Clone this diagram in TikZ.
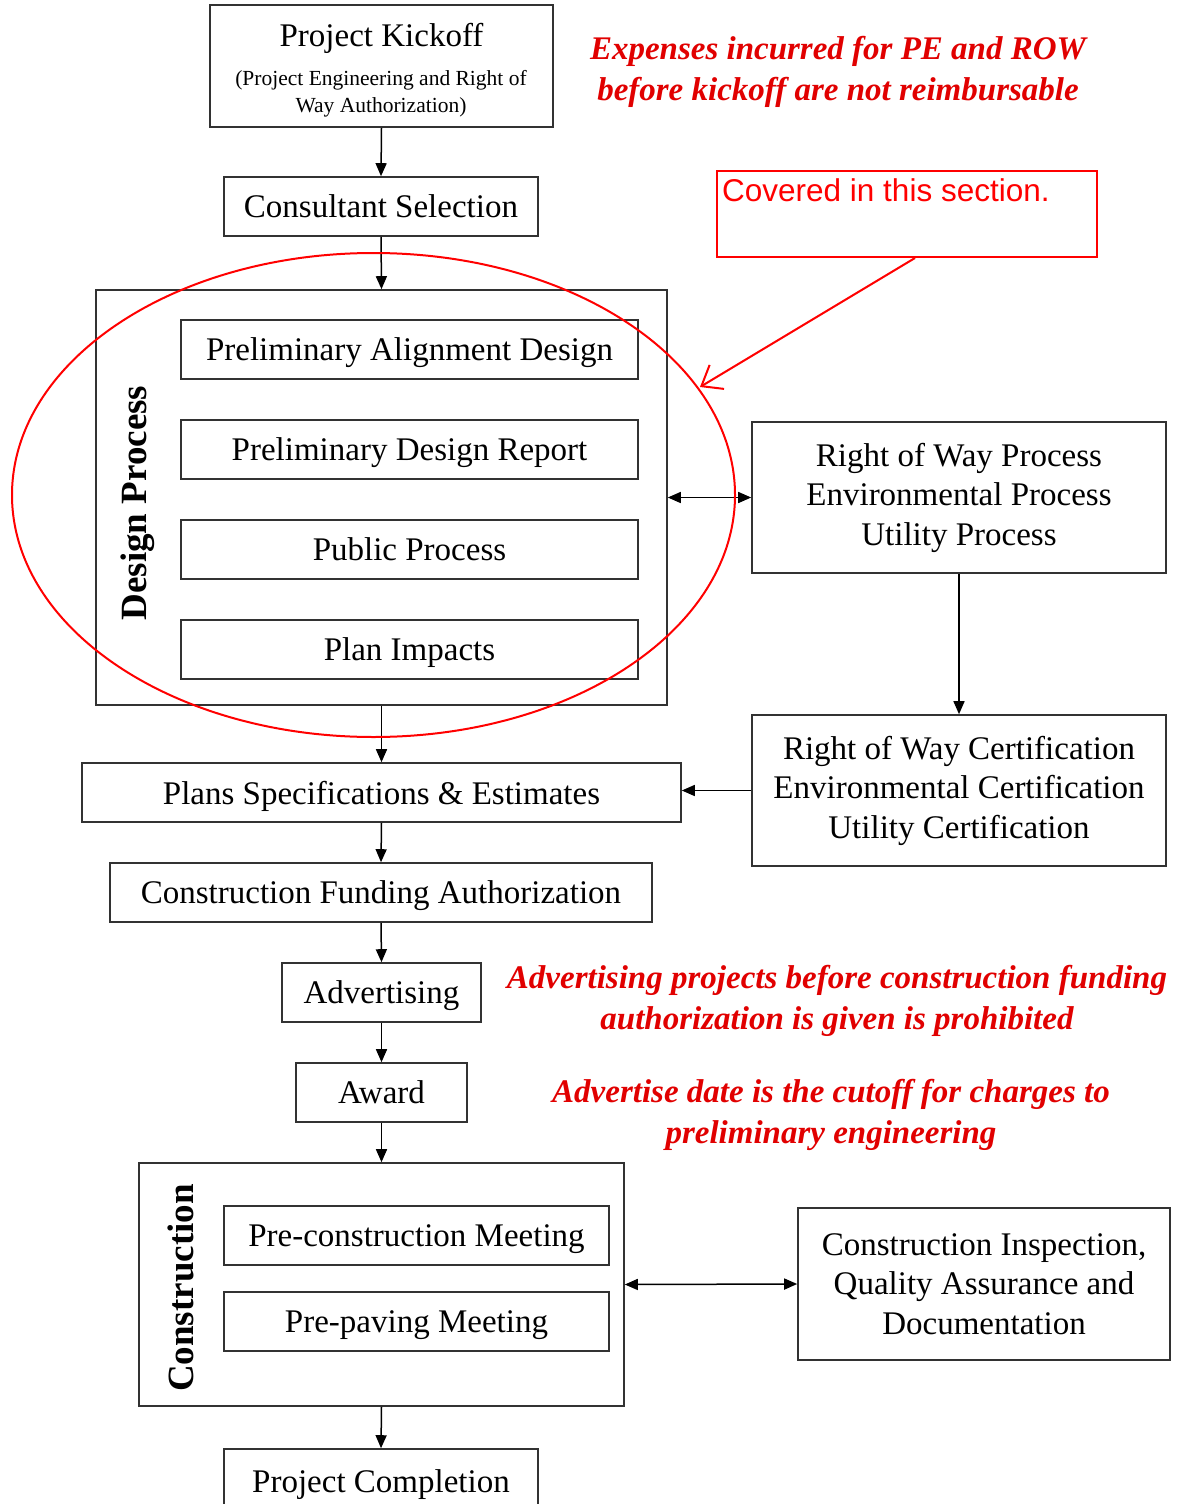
\documentclass[tikz,border=0pt]{standalone}
\usepackage{fontspec}
\setmainfont{Liberation Serif}
\newfontfamily\sansf{Liberation Sans}
\usetikzlibrary{arrows.meta,calc}
\definecolor{boxgray}{RGB}{50,50,50}
\definecolor{notered}{RGB}{225,0,0}
\tikzset{
  box/.style={draw=boxgray, line width=1.6pt, inner sep=0pt, align=center,
    font=\fontsize{33}{39.5}\selectfont},
  onebox/.style={box, text depth=0pt},
  arr/.style={draw=black, line width=1.5pt, -{Triangle[length=13pt,width=11pt]}},
  darr/.style={draw=black, line width=1.5pt, {Triangle[length=13pt,width=11pt]}-{Triangle[length=13pt,width=11pt]}},
  note/.style={text=notered, align=center, font=\bfseries\itshape\fontsize{33}{41}\selectfont},
  vlabel/.style={rotate=90, inner sep=0pt, font=\bfseries\fontsize{37}{40}\selectfont},
}
\begin{document}
\begin{tikzpicture}[x=1pt,y=-1pt]
\useasboundingbox (0,0) rectangle (1183,1504);
\clip (0,0) rectangle (1183,1504);
\fill[white] (0,0) rectangle (1183,1504);

% Project kickoff
\node[box, minimum width=343pt, minimum height=122pt] (kick) at (381.5,66) {};
\node[inner sep=0pt, font=\fontsize{33}{39.5}\selectfont] (kickt) at (381.5,38.5) {Project Kickoff};
\node[inner sep=0pt, align=center, font=\fontsize{21.5}{27}\selectfont] (kicks) at (381,94) {(Project Engineering and Right of\\Way Authorization)};

\node[onebox, minimum width=314pt, minimum height=59pt] (cons) at (381,206.5) {Consultant Selection};

% Design process
\node[box, minimum width=571pt, minimum height=415pt] (design) at (381.5,497.5) {};
\node[vlabel] (dlabel) at (138,503) {Design Process};
\node[onebox, minimum width=457pt, minimum height=59pt] (pad) at (409.5,349.5) {Preliminary Alignment Design};
\node[onebox, minimum width=457pt, minimum height=59pt] (pdr) at (409.5,449.5) {Preliminary Design Report};
\node[onebox, minimum width=457pt, minimum height=59pt] (pub) at (409.5,549.5) {Public Process};
\node[onebox, minimum width=457pt, minimum height=59pt] (pli) at (409.5,649.5) {Plan Impacts};

\node[box, minimum width=414pt, minimum height=151pt] (row) at (959,497.5) {Right of Way Process\\Environmental Process\\Utility Process};
\node[box, minimum width=414pt, minimum height=151pt] (cert) at (959,790.5) {Right of Way Certification\\Environmental Certification\\Utility Certification};

\node[onebox, minimum width=599pt, minimum height=59pt] (pse) at (381.5,792.5) {Plans Specifications \& Estimates};
\node[onebox, minimum width=542pt, minimum height=59pt] (cfa) at (381,892.5) {Construction Funding Authorization};
\node[onebox, minimum width=199pt, minimum height=59pt] (adv) at (381.5,992.5) {Advertising};
\node[onebox, minimum width=171pt, minimum height=59pt] (award) at (381.5,1092.5) {Award};

% Construction
\node[box, minimum width=485pt, minimum height=243pt] (constr) at (381.5,1284.5) {};
\node[vlabel] (clabel) at (181,1288) {Construction};
\node[onebox, minimum width=385pt, minimum height=59pt] (precon) at (416.5,1235.5) {Pre-construction Meeting};
\node[onebox, minimum width=385pt, minimum height=59pt] (prepav) at (416.5,1321.5) {Pre-paving Meeting};
\node[box, minimum width=372pt, minimum height=152pt] (ci) at (984,1284) {Construction Inspection,\\Quality Assurance and\\Documentation};
\node[onebox, minimum width=314pt, minimum height=64pt] (pc) at (381,1481) {Project Completion};

% connectors
\draw[arr] (kick.south) -- (cons.north);
\draw[arr] (cons.south) -- (design.north);
\draw[darr] (design.east) -- (row.west);
\draw[arr] (row.south) -- (cert.north);
\draw[arr] (design.south) -- (pse.north);
\draw[arr] (cert.west) -- (cert.west -| pse.east);
\draw[arr] (pse.south) -- (cfa.north);
\draw[arr] (cfa.south) -- (adv.north);
\draw[arr] (adv.south) -- (award.north);
\draw[arr] (award.south) -- (constr.north);
\draw[darr] (constr.east) -- (ci.west);
\draw[arr] (constr.south) -- (pc.north);

% red notes
\node[note] (n1) at (838,72) {Expenses incurred for PE and ROW\\before kickoff are not reimbursable};
\node[note] (n2) at (837,1001) {Advertising projects before construction funding\\authorization is given is prohibited};
\node[note] (n3) at (831,1115) {Advertise date is the cutoff for charges to\\preliminary engineering};

% red annotation
\draw[red, line width=2pt] (373.5,495) ellipse [x radius=361.5pt, y radius=242pt];
\node[draw=red, line width=2pt, minimum width=380pt, minimum height=86pt, inner sep=0pt] (cov) at (907,214) {};
\node[anchor=base west, inner sep=0pt, text=red, font=\sansf\fontsize{31.5}{36}\selectfont] (covt) at (722,201) {Covered in this section.};
\coordinate (covtip) at (700,387);
\draw[red, line width=2pt, -{Straight Barb[length=18pt,width=28pt]}] ([xshift=8pt]cov.south) -- (covtip);
\end{tikzpicture}
\end{document}
